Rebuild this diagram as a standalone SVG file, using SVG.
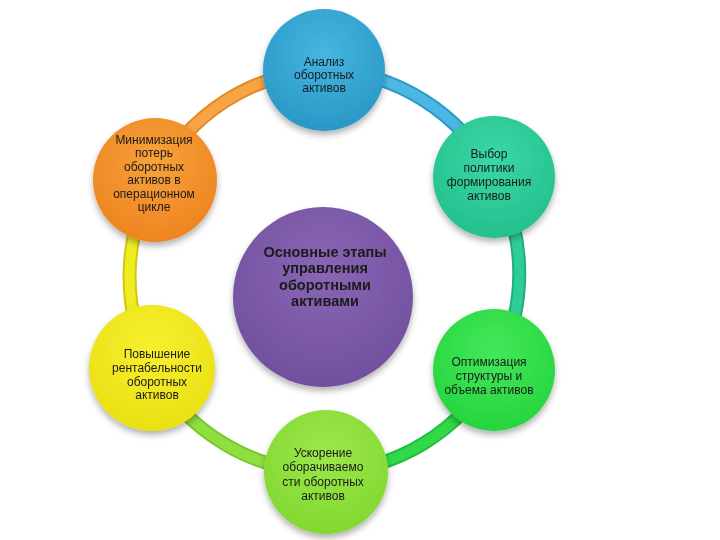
<svg xmlns="http://www.w3.org/2000/svg" width="720" height="540" viewBox="0 0 720 540">
<defs>
<filter id="sh" x="-20%" y="-20%" width="140%" height="150%">
<feDropShadow dx="0" dy="4" stdDeviation="3" flood-color="#000" flood-opacity="0.3"/>
</filter>
<radialGradient id="gBlue" cx="50%" cy="35%" r="65%"><stop offset="0" stop-color="#45B6E2"/><stop offset="1" stop-color="#2A98C6"/></radialGradient>
<radialGradient id="gOrange" cx="50%" cy="35%" r="65%"><stop offset="0" stop-color="#F7A23C"/><stop offset="1" stop-color="#EE8420"/></radialGradient>
<radialGradient id="gTeal" cx="50%" cy="35%" r="65%"><stop offset="0" stop-color="#3AD8A6"/><stop offset="1" stop-color="#24C08E"/></radialGradient>
<radialGradient id="gPurple" cx="50%" cy="35%" r="65%"><stop offset="0" stop-color="#8A66B6"/><stop offset="1" stop-color="#70509E"/></radialGradient>
<radialGradient id="gYellow" cx="50%" cy="35%" r="65%"><stop offset="0" stop-color="#F6F030"/><stop offset="1" stop-color="#EAE012"/></radialGradient>
<radialGradient id="gGreen" cx="50%" cy="35%" r="65%"><stop offset="0" stop-color="#44E85A"/><stop offset="1" stop-color="#26D53E"/></radialGradient>
<radialGradient id="gLime" cx="50%" cy="35%" r="65%"><stop offset="0" stop-color="#9CE84A"/><stop offset="1" stop-color="#82D832"/></radialGradient>
</defs>
<style>
.seg{fill:none;stroke-width:14;stroke-linecap:butt}
.segIn{fill:none;stroke-width:10;stroke-linecap:butt}
.t{font-family:"Liberation Sans","DejaVu Sans",sans-serif;font-size:12px;fill:#1a1a1a;text-anchor:middle}
.tc{font-family:"Liberation Sans","DejaVu Sans",sans-serif;font-size:14.5px;font-weight:bold;fill:#1a1a1a;text-anchor:middle}
.n{filter:url(#sh)}
</style>
<rect width="720" height="540" fill="#ffffff"/>
<g id="connectors">
<path class="seg" stroke="#2A9BC8" d="M324,70 A197,197 0 0,1 494,177"/>
<path class="segIn" stroke="#4DB7E4" d="M324,70 A197,197 0 0,1 494,177"/>
<path class="seg" stroke="#1FAE80" d="M494,177 A197,197 0 0,1 494,370"/>
<path class="segIn" stroke="#30CC98" d="M494,177 A197,197 0 0,1 494,370"/>
<path class="seg" stroke="#1FBE38" d="M494,370 A197,197 0 0,1 326,472"/>
<path class="segIn" stroke="#30D84A" d="M494,370 A197,197 0 0,1 326,472"/>
<path class="seg" stroke="#78C82C" d="M326,472 A197,197 0 0,1 152,368"/>
<path class="segIn" stroke="#90DE40" d="M326,472 A197,197 0 0,1 152,368"/>
<path class="seg" stroke="#CFC80E" d="M152,368 A197,197 0 0,1 155,180"/>
<path class="segIn" stroke="#F0EC22" d="M152,368 A197,197 0 0,1 155,180"/>
<path class="seg" stroke="#E08A28" d="M155,180 A197,197 0 0,1 324,70"/>
<path class="segIn" stroke="#F8A445" d="M155,180 A197,197 0 0,1 324,70"/>
</g>
<g id="node-top" class="n">
<circle cx="324" cy="70" r="61" fill="url(#gBlue)"/>
<text class="t" x="324" y="66">Анализ</text>
<text class="t" x="324" y="79">оборотных</text>
<text class="t" x="324" y="92">активов</text>
</g>
<g id="node-orange" class="n">
<circle cx="155" cy="180" r="62" fill="url(#gOrange)"/>
<text class="t" x="154" y="144">Минимизация</text>
<text class="t" x="154" y="157">потерь</text>
<text class="t" x="154" y="171">оборотных</text>
<text class="t" x="154" y="184">активов в</text>
<text class="t" x="154" y="198">операционном</text>
<text class="t" x="154" y="211">цикле</text>
</g>
<g id="node-teal" class="n">
<circle cx="494" cy="177" r="61" fill="url(#gTeal)"/>
<text class="t" x="489" y="158">Выбор</text>
<text class="t" x="489" y="172">политики</text>
<text class="t" x="489" y="186">формирования</text>
<text class="t" x="489" y="200">активов</text>
</g>
<g id="node-center" class="n">
<circle cx="323" cy="297" r="90" fill="url(#gPurple)"/>
<text class="tc" x="325" y="257">Основные этапы</text>
<text class="tc" x="325" y="273">управления</text>
<text class="tc" x="325" y="290">оборотными</text>
<text class="tc" x="325" y="306">активами</text>
</g>
<g id="node-yellow" class="n">
<circle cx="152" cy="368" r="63" fill="url(#gYellow)"/>
<text class="t" x="157" y="358">Повышение</text>
<text class="t" x="157" y="372">рентабельности</text>
<text class="t" x="157" y="386">оборотных</text>
<text class="t" x="157" y="399">активов</text>
</g>
<g id="node-green" class="n">
<circle cx="494" cy="370" r="61" fill="url(#gGreen)"/>
<text class="t" x="489" y="366">Оптимизация</text>
<text class="t" x="489" y="380">структуры и</text>
<text class="t" x="489" y="394">объема активов</text>
</g>
<g id="node-bottom" class="n">
<circle cx="326" cy="472" r="62" fill="url(#gLime)"/>
<text class="t" x="323" y="457">Ускорение</text>
<text class="t" x="323" y="471">оборачиваемо</text>
<text class="t" x="323" y="486">сти оборотных</text>
<text class="t" x="323" y="500">активов</text>
</g>
</svg>
